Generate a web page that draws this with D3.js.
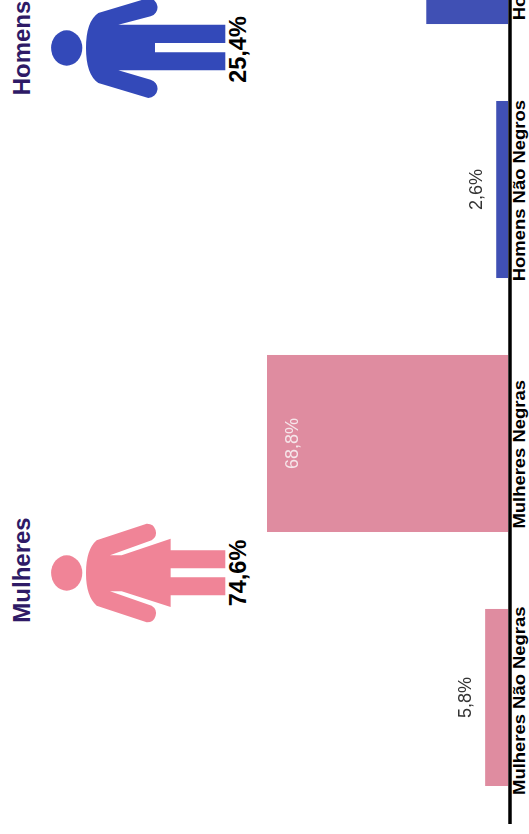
<!DOCTYPE html>
<html>
<head>
<meta charset="utf-8">
<title>Mulheres e homens</title>
<script src="https://d3js.org/d3.v7.min.js"></script>
<style>
    html, body { margin: 0; padding: 0; background: #fff; }
    svg { display: block; }
    text { font-family: "Liberation Sans", Arial, sans-serif; }
</style>
</head>
<body>
<div id="chart"></div>
<script>
// Chart data
const categories = ['Mulheres Não Negras', 'Mulheres Negras', 'Homens Não Negros', 'Homens Negros'];
const shares = [5.8, 68.8, 2.6, 22.8];
const barGroups = ['f', 'f', 'm', 'm'];
const genders = ['Mulheres', 'Homens'];
const genderShares = [74.6, 25.4];

// Icon outlines, drawn around a vertical centre line
const womanPath = 'M0,258 Q-70,258 -98,290 L-148,440 A27,27 0 0 0 -98,455 L-55,330 L-55,365 L-102,512 L-67,512 L-67,676 L-13,676 L-13,512 L14,512 L14,676 L68,676 L68,512 L103,512 L53,365 L53,330 L98,455 A27,27 0 0 0 148,440 L98,290 Q70,258 0,258 Z';
const manPath = 'M0,258 Q-80,258 -105,295 L-150,445 A28,28 0 0 0 -95,452 L-67,355 L-67,676 L-13,676 L-13,465 L15,465 L15,676 L70,676 L70,355 L95,452 A28,28 0 0 0 150,445 L105,295 Q80,258 0,258 Z';

const colors = { f: '#df8ca0', m: '#4050b4' };
const iconColors = { f: '#f08497', m: '#3349b9' };

// The picture is a page lying on its side: draw upright, then turn it
const width = 834;
const height = 529;
const baseline = 508;

const comma = d3.formatLocale({ decimal: ',', thousands: '.', grouping: [3], currency: ['', ''] });
const pct = d => comma.format('.1f')(d) + '%';

const svg = d3.select('#chart')
    .append('svg')
    .attr('width', height)
    .attr('height', width);

const g = svg.append('g')
    .attr('transform', `translate(0,${width}) rotate(-90)`);

const xScale = d3.scaleBand()
    .domain(categories)
    .range([9.5, 1025.5])
    .paddingInner(0.303)
    .paddingOuter(0.1516);

const yScale = d3.scaleLinear()
    .domain([-0.8, 68.8])
    .range([baseline, 267]);

// Bars
g.selectAll('rect.bar')
    .data(categories)
    .enter().append('rect')
    .attr('class', 'bar')
    .attr('x', d => xScale(d))
    .attr('y', (d, i) => yScale(shares[i]))
    .attr('width', xScale.bandwidth())
    .attr('height', (d, i) => baseline - yScale(shares[i]))
    .style('fill', (d, i) => colors[barGroups[i]]);

// Value labels, the big bar has its label inside. The last bar's label falls off the page
const valueLabels = categories
    .map((d, i) => ({ x: xScale(d) + xScale.bandwidth() / 2, v: shares[i] }))
    .filter(d => d.x < width);

g.selectAll('text.value')
    .data(valueLabels)
    .enter().append('text')
    .attr('class', 'value')
    .attr('x', d => d.x)
    .attr('y', d => d.v > 20 ? yScale(d.v) + 31 : yScale(d.v) - 14)
    .style('text-anchor', 'middle')
    .style('font-size', '18px')
    .style('filter', 'blur(0.5px)')
    .style('fill', d => d.v > 20 ? '#f6e6ea' : '#333')
    .text(d => pct(d.v));

// Category axis, the labels do not sit quite centred under their bars
const labelShift = [-3, -10, -1, -13];
const xAxis = d3.axisBottom(xScale).tickSize(0).tickPadding(3.5);
const axisG = g.append('g')
    .attr('transform', `translate(0,${baseline + 1.5})`)
    .call(xAxis);
axisG.select('.domain')
    .style('stroke', '#000')
    .style('stroke-width', 3.5);
axisG.selectAll('text')
    .attr('dx', (d, i) => labelShift[i])
    .attr('transform', 'scale(1.085,1)') // reference type is a bit stretched
    .style('font-size', '17px')
    .style('font-weight', 'bold')
    .style('fill', '#000');

// Gender summary with the pictograms
const iconCentres = [261, 786];
const titleCentres = [264, 786];
const shareCentres = [261, 784.5];
const genderKeys = ['f', 'm'];

const people = g.selectAll('g.person')
    .data(genders)
    .enter().append('g')
    .attr('class', 'person');

people.append('text')
    .attr('x', (d, i) => titleCentres[i])
    .attr('y', 30)
    .style('text-anchor', 'middle')
    .style('font-size', '24px')
    .style('font-weight', 'bold')
    .style('fill', '#2e1a66')
    .text(d => d);

people.append('ellipse')
    .attr('cx', (d, i) => iconCentres[i])
    .attr('cy', 66.7)
    .attr('rx', 17.7)
    .attr('ry', 15.6)
    .style('fill', (d, i) => iconColors[genderKeys[i]]);

people.append('path')
    .attr('transform', (d, i) => `translate(${iconCentres[i]},0) scale(0.3333)`)
    .attr('d', (d, i) => i === 0 ? womanPath : manPath)
    .style('fill', (d, i) => iconColors[genderKeys[i]]);

people.append('text')
    .attr('x', (d, i) => shareCentres[i])
    .attr('y', 246)
    .style('text-anchor', 'middle')
    .style('font-size', '23.5px')
    .style('font-weight', 'bold')
    .style('fill', '#000')
    .text((d, i) => pct(genderShares[i]));
</script>
</body>
</html>
